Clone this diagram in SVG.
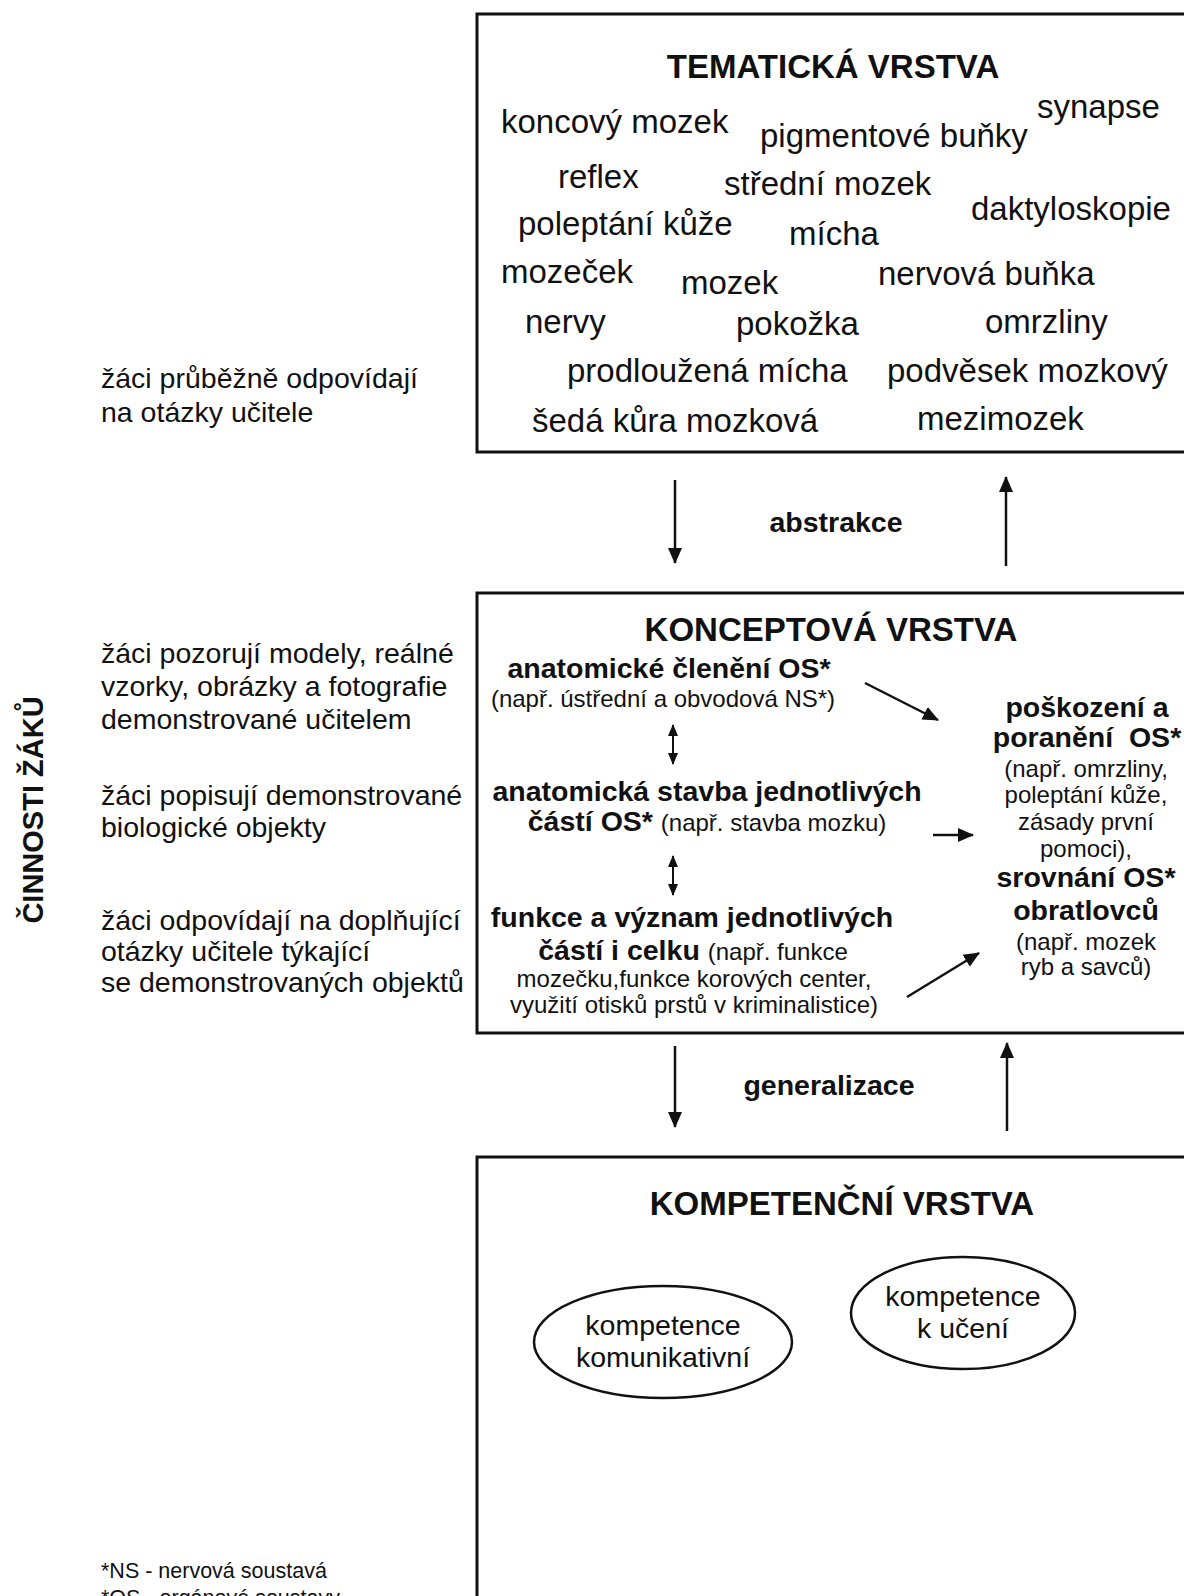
<svg xmlns="http://www.w3.org/2000/svg" width="1184" height="1596" viewBox="0 0 1184 1596">
  <style>
    text { font-family: "Liberation Sans", Arial, sans-serif; fill: #111; }
    .title { font-size: 33px; font-weight: bold; text-anchor: middle; }
    .word { font-size: 33px; }
    .side { font-size: 28.5px; }
    .b { font-size: 28.5px; font-weight: bold; }
    .n { font-size: 24px; font-weight: normal; }
    .mid { text-anchor: middle; }
    .lbl { font-size: 28.5px; font-weight: bold; text-anchor: middle; }
    .note { font-size: 21.5px; }
    .box { fill: #fff; stroke: #111; stroke-width: 3; }
    .conn { stroke: #111; stroke-width: 2.5; fill: none; }
    .thin { stroke: #111; stroke-width: 2; fill: none; }
    .oval { fill: #fff; stroke: #111; stroke-width: 2.5; }
  </style>
  <defs>
    <marker id="head" markerUnits="userSpaceOnUse" viewBox="0 0 16 16" refX="15" refY="8" markerWidth="16" markerHeight="16" orient="auto-start-reverse">
      <path d="M0,1 L16,8 L0,15 Z" fill="#111"/>
    </marker>
    <marker id="small" markerUnits="userSpaceOnUse" viewBox="0 0 12 12" refX="11" refY="6" markerWidth="12" markerHeight="12" orient="auto-start-reverse">
      <path d="M0,1 L12,6 L0,11 Z" fill="#111"/>
    </marker>
  </defs>

  <rect width="1184" height="1596" fill="#fff"/>

  <!-- left column: pupils' activities -->
  <g id="cinnosti">
    <text class="b" style="font-size:29px" text-anchor="middle" transform="translate(43,810) rotate(-90)">ČINNOSTI ŽÁKŮ</text>
  </g>
  <g id="cinnost-tematicka">
    <text class="side" x="101" y="388">žáci průběžně odpovídají</text>
    <text class="side" x="101" y="422">na otázky učitele</text>
  </g>
  <g id="cinnost-pozorovani">
    <text class="side" x="101" y="663">žáci pozorují modely, reálné</text>
    <text class="side" x="101" y="696">vzorky, obrázky a fotografie</text>
    <text class="side" x="101" y="729">demonstrované učitelem</text>
  </g>
  <g id="cinnost-popis">
    <text class="side" x="101" y="805">žáci popisují demonstrované</text>
    <text class="side" x="101" y="837">biologické objekty</text>
  </g>
  <g id="cinnost-odpovedi">
    <text class="side" x="101" y="930">žáci odpovídají na doplňující</text>
    <text class="side" x="101" y="961">otázky učitele týkající</text>
    <text class="side" x="101" y="992">se demonstrovaných objektů</text>
  </g>

  <!-- thematic layer -->
  <g id="tematicka-vrstva">
    <rect class="box" x="477" y="14" width="760" height="438"/>
    <text class="title" x="833" y="78">TEMATICKÁ VRSTVA</text>
    <text class="word" x="501" y="133">koncový mozek</text>
    <text class="word" x="760" y="147">pigmentové buňky</text>
    <text class="word" x="1037" y="118">synapse</text>
    <text class="word" x="558" y="188">reflex</text>
    <text class="word" x="724" y="195">střední mozek</text>
    <text class="word" x="971" y="220">daktyloskopie</text>
    <text class="word" x="518" y="235">poleptání kůže</text>
    <text class="word" x="789" y="245">mícha</text>
    <text class="word" x="501" y="283">mozeček</text>
    <text class="word" x="681" y="294">mozek</text>
    <text class="word" x="878" y="285">nervová buňka</text>
    <text class="word" x="525" y="333">nervy</text>
    <text class="word" x="736" y="335">pokožka</text>
    <text class="word" x="985" y="333">omrzliny</text>
    <text class="word" x="567" y="382">prodloužená mícha</text>
    <text class="word" x="887" y="382">podvěsek mozkový</text>
    <text class="word" x="532" y="432">šedá kůra mozková</text>
    <text class="word" x="917" y="430">mezimozek</text>
  </g>

  <!-- concept layer -->
  <g id="konceptova-vrstva">
    <rect class="box" x="477" y="593" width="760" height="440"/>
    <text class="title" x="831" y="641">KONCEPTOVÁ VRSTVA</text>
  </g>
  <g id="cleneni">
    <text class="b mid" x="669" y="678">anatomické členění OS*</text>
    <text class="n mid" x="663" y="707">(např. ústřední a obvodová NS*)</text>
  </g>
  <g id="stavba">
    <text class="b mid" x="707" y="801">anatomická stavba jednotlivých</text>
    <text class="b mid" x="707" y="831">částí OS* <tspan class="n">(např. stavba mozku)</tspan></text>
  </g>
  <g id="funkce">
    <text class="b mid" x="692" y="927">funkce a význam jednotlivých</text>
    <text class="b mid" x="693" y="960">částí i celku <tspan class="n">(např. funkce</tspan></text>
    <text class="n mid" x="694" y="987">mozečku,funkce korových center,</text>
    <text class="n mid" x="694" y="1013">využití otisků prstů v kriminalistice)</text>
  </g>
  <g id="poskozeni-srovnani">
    <text class="b mid" x="1087" y="717">poškození a</text>
    <text class="b mid" x="1087" y="747" xml:space="preserve">poranění  OS*</text>
    <text class="n mid" x="1086" y="777">(např. omrzliny,</text>
    <text class="n mid" x="1086" y="803">poleptání kůže,</text>
    <text class="n mid" x="1086" y="830">zásady první</text>
    <text class="n mid" x="1086" y="857">pomoci),</text>
    <text class="b mid" x="1086" y="887">srovnání OS*</text>
    <text class="b mid" x="1086" y="920">obratlovců</text>
    <text class="n mid" x="1086" y="950">(např. mozek</text>
    <text class="n mid" x="1086" y="975">ryb a savců)</text>
  </g>

  <!-- competence layer -->
  <g id="kompetencni-vrstva">
    <rect class="box" x="477" y="1157" width="760" height="500"/>
    <text class="title" x="842" y="1215">KOMPETENČNÍ VRSTVA</text>
  </g>
  <g id="komunikativni">
    <ellipse class="oval" cx="663" cy="1342" rx="129" ry="56"/>
    <text class="side mid" x="663" y="1335">kompetence</text>
    <text class="side mid" x="663" y="1367">komunikativní</text>
  </g>
  <g id="k-uceni">
    <ellipse class="oval" cx="963" cy="1313" rx="112" ry="56"/>
    <text class="side mid" x="963" y="1306">kompetence</text>
    <text class="side mid" x="963" y="1338">k učení</text>
  </g>

  <!-- connectors -->
  <g id="connectors">
    <line class="conn" x1="675" y1="480" x2="675" y2="563" marker-end="url(#head)"/>
    <line class="conn" x1="1006" y1="566" x2="1006" y2="477" marker-end="url(#head)"/>
    <text class="lbl" x="836" y="532">abstrakce</text>

    <line class="conn" x1="675" y1="1046" x2="675" y2="1127" marker-end="url(#head)"/>
    <line class="conn" x1="1007" y1="1131" x2="1007" y2="1043" marker-end="url(#head)"/>
    <text class="lbl" x="829" y="1095">generalizace</text>

    <line class="thin" x1="673" y1="725" x2="673" y2="764" marker-start="url(#small)" marker-end="url(#small)"/>
    <line class="thin" x1="673" y1="856" x2="673" y2="895" marker-start="url(#small)" marker-end="url(#small)"/>

    <line class="conn" x1="865" y1="683" x2="938" y2="720" marker-end="url(#head)"/>
    <line class="conn" x1="933" y1="835" x2="973" y2="835" marker-end="url(#head)"/>
    <line class="conn" x1="907" y1="997" x2="979" y2="953" marker-end="url(#head)"/>
  </g>

  <!-- footnotes -->
  <g id="poznamky">
    <text class="note" x="101" y="1578">*NS - nervová soustavá</text>
    <text class="note" x="101" y="1605">*OS - orgánové soustavy</text>
  </g>
</svg>
